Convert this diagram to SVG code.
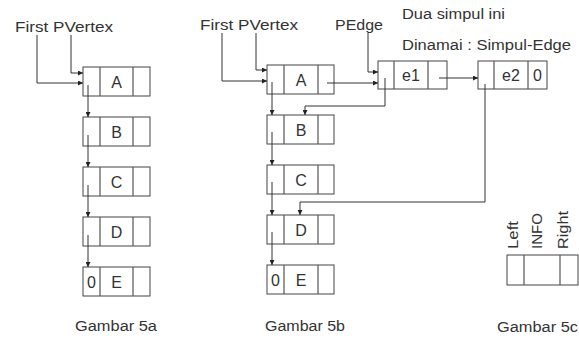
<svg xmlns="http://www.w3.org/2000/svg" width="579" height="338" viewBox="0 0 579 338">
<defs>
<marker id="ah" markerWidth="5" markerHeight="5" refX="5" refY="2.5" orient="auto" markerUnits="userSpaceOnUse">
<path d="M0,0 L5,2.5 L0,5 z" fill="#222"/>
</marker>
<style>
.bx{fill:#fff;stroke:#444;stroke-width:1}
.dv{stroke:#555;stroke-width:1.2}
.cn{fill:none;stroke:#333;stroke-width:1;marker-end:url(#ah)}
text{font-family:"Liberation Sans",Arial,sans-serif;fill:#333}
.lb{font-size:14px}
.cl{font-size:16px;text-anchor:middle}
</style>
</defs>
<rect width="579" height="338" fill="#fff"/>

<!-- Gambar 5a -->
<g id="label5a">
<text class="lb" x="15" y="32" textLength="98" lengthAdjust="spacingAndGlyphs">First PVertex</text>
<text class="lb" x="75" y="331" textLength="82" lengthAdjust="spacingAndGlyphs">Gambar 5a</text>
</g>
<g id="a5a"><rect class="bx" x="83" y="67" width="67" height="29"/><line class="dv" x1="100" y1="67" x2="100" y2="96"/><line class="dv" x1="133" y1="67" x2="133" y2="96"/><text class="cl" x="116.5" y="88">A</text></g>
<g id="b5a"><rect class="bx" x="83" y="117" width="67" height="29"/><line class="dv" x1="100" y1="117" x2="100" y2="146"/><line class="dv" x1="133" y1="117" x2="133" y2="146"/><text class="cl" x="116.5" y="138">B</text></g>
<g id="c5a"><rect class="bx" x="83" y="167" width="67" height="29"/><line class="dv" x1="100" y1="167" x2="100" y2="196"/><line class="dv" x1="133" y1="167" x2="133" y2="196"/><text class="cl" x="116.5" y="188">C</text></g>
<g id="d5a"><rect class="bx" x="83" y="217" width="67" height="29"/><line class="dv" x1="100" y1="217" x2="100" y2="246"/><line class="dv" x1="133" y1="217" x2="133" y2="246"/><text class="cl" x="116.5" y="238">D</text></g>
<g id="e5a"><rect class="bx" x="83" y="267" width="67" height="29"/><line class="dv" x1="100" y1="267" x2="100" y2="296"/><line class="dv" x1="133" y1="267" x2="133" y2="296"/><text class="cl" x="91.5" y="288">0</text><text class="cl" x="116.5" y="288">E</text></g>

<!-- Gambar 5b -->
<g id="label5b">
<text class="lb" x="200" y="30" textLength="98" lengthAdjust="spacingAndGlyphs">First PVertex</text>
<text class="lb" x="335" y="30" textLength="48" lengthAdjust="spacingAndGlyphs">PEdge</text>
<text class="lb" x="402" y="19" textLength="103" lengthAdjust="spacingAndGlyphs">Dua simpul ini</text>
<text class="lb" x="402" y="50" textLength="169" lengthAdjust="spacingAndGlyphs">Dinamai : Simpul-Edge</text>
<text class="lb" x="265" y="331" textLength="80" lengthAdjust="spacingAndGlyphs">Gambar 5b</text>
</g>
<g id="a5b"><rect class="bx" x="267" y="65" width="67" height="29"/><line class="dv" x1="284" y1="65" x2="284" y2="94"/><line class="dv" x1="318" y1="65" x2="318" y2="94"/><text class="cl" x="301" y="86">A</text></g>
<g id="b5b"><rect class="bx" x="267" y="115" width="67" height="29"/><line class="dv" x1="284" y1="115" x2="284" y2="144"/><line class="dv" x1="318" y1="115" x2="318" y2="144"/><text class="cl" x="301" y="136">B</text></g>
<g id="c5b"><rect class="bx" x="267" y="165" width="67" height="29"/><line class="dv" x1="284" y1="165" x2="284" y2="194"/><line class="dv" x1="318" y1="165" x2="318" y2="194"/><text class="cl" x="301" y="186">C</text></g>
<g id="d5b"><rect class="bx" x="267" y="215" width="67" height="29"/><line class="dv" x1="284" y1="215" x2="284" y2="244"/><line class="dv" x1="318" y1="215" x2="318" y2="244"/><text class="cl" x="301" y="236">D</text></g>
<g id="e5b"><rect class="bx" x="267" y="265" width="67" height="29"/><line class="dv" x1="284" y1="265" x2="284" y2="294"/><line class="dv" x1="318" y1="265" x2="318" y2="294"/><text class="cl" x="275.5" y="286">0</text><text class="cl" x="301" y="286">E</text></g>
<g id="e1"><rect class="bx" x="378" y="61" width="69" height="28"/><line class="dv" x1="394" y1="61" x2="394" y2="89"/><line class="dv" x1="428" y1="61" x2="428" y2="89"/><text class="cl" x="411" y="81">e1</text></g>
<g id="e2"><rect class="bx" x="478" y="61" width="69" height="28"/><line class="dv" x1="494" y1="61" x2="494" y2="89"/><line class="dv" x1="528" y1="61" x2="528" y2="89"/><text class="cl" x="511" y="81">e2</text><text class="cl" x="537.5" y="81">0</text></g>

<!-- Gambar 5c -->
<g id="node5c">
<rect class="bx" x="507" y="255" width="71" height="30"/><line class="dv" x1="524" y1="255" x2="524" y2="285"/><line class="dv" x1="560" y1="255" x2="560" y2="285"/>
<text class="lb" transform="translate(518,249) rotate(-90)" textLength="28" lengthAdjust="spacingAndGlyphs">Left</text>
<text class="lb" transform="translate(542,249) rotate(-90)" textLength="36" lengthAdjust="spacingAndGlyphs">INFO</text>
<text class="lb" transform="translate(568,249) rotate(-90)" textLength="38" lengthAdjust="spacingAndGlyphs">Right</text>
<text class="lb" x="497" y="332" textLength="81" lengthAdjust="spacingAndGlyphs">Gambar 5c</text>
</g>

<g id="connectors">
<path class="cn" d="M37,35 V83 H83"/>
<path class="cn" d="M71,35 V73 H83"/>
<path class="cn" d="M88,85 V117"/>
<path class="cn" d="M88,135 V167"/>
<path class="cn" d="M88,185 V217"/>
<path class="cn" d="M88,235 V267"/>

<path class="cn" d="M222,33 V81 H267"/>
<path class="cn" d="M256,33 V70 H267"/>
<path class="cn" d="M272,82 V115"/>
<path class="cn" d="M272,132 V165"/>
<path class="cn" d="M272,182 V215"/>
<path class="cn" d="M272,232 V265"/>
<path class="cn" d="M327,83 H378"/>
<path class="cn" d="M368,33 V72 H378"/>
<path class="cn" d="M385,78 V106 H305 V115"/>
<path class="cn" d="M439,78 H478"/>
<path class="cn" d="M485,84 V202 H300 V215"/>
</g>
</svg>
